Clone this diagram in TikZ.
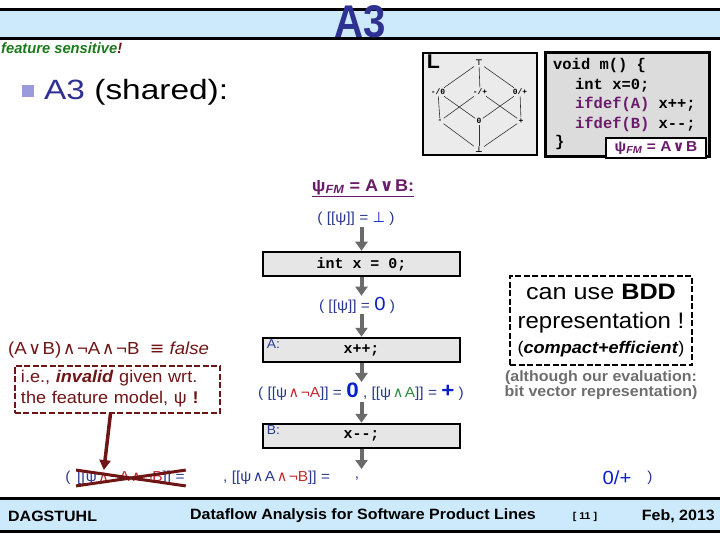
\documentclass[tikz,border=0pt]{standalone}
\usepackage{fontspec}
\setmainfont{Liberation Sans}[FakeStretch=1.07]
\setsansfont{Liberation Sans}[FakeStretch=1.07]
\setmonofont{Liberation Mono}
\newfontfamily\symf{DejaVu Sans}
\usetikzlibrary{arrows.meta,positioning}
\definecolor{barblue}{HTML}{CCEAFB}
\definecolor{titlenavy}{HTML}{2E3192}
\definecolor{labnavy}{HTML}{2B3990}
\definecolor{valblue}{HTML}{0A1FCC}
\definecolor{redc}{HTML}{C1272D}
\definecolor{greenc}{HTML}{2E8B3A}
\definecolor{fsgreen}{HTML}{1C7A1C}
\definecolor{maroonc}{HTML}{701515}
\definecolor{purpc}{HTML}{6A1B6A}
\definecolor{arrgrey}{HTML}{6B6B6B}
\definecolor{notegrey}{HTML}{6E6E6E}
\definecolor{boxgrey}{HTML}{E6E6E6}
\definecolor{codegrey}{HTML}{DCDCDC}
\definecolor{latgrey}{HTML}{EBEBEB}
\definecolor{bulletc}{HTML}{9A9ADC}
\newcommand{\fsz}[1]{\fontsize{#1}{#1}\selectfont}
\newcommand{\opand}{\kern1.5bp{\symf ∧}\kern1.5bp}
\newcommand{\opor}{\kern1.5bp{\symf ∨}\kern1.5bp}
\newcommand{\opequiv}{{\symf ≡}}
\newcommand{\opbot}{{\symf ⊥}}
\newcommand{\optop}{{\symf ⊤}}
\tikzset{
  stmt/.style={draw=black, line width=2.5bp, fill=boxgrey, minimum width=197bp, minimum height=24bp, inner sep=0pt, font=\ttfamily\bfseries\fsz{15}},
  flow/.style={-{Triangle[length=9bp,width=12bp]}, line width=4bp, draw=arrgrey},
  wrongflow/.style={-{Triangle[length=10bp,width=11bp]}, line width=3.5bp, draw=maroonc},
  strike/.style={draw=maroonc, line width=3bp},
  state/.style={text=labnavy, font=\fsz{14.5}, inner sep=1bp},
  tag/.style={text=labnavy, font=\fsz{13}, anchor=north west, inner sep=0pt},
  latel/.style={font=\ttfamily\bfseries\fsz{8}, inner sep=1.2bp},
  latline/.style={draw=black!80, line width=0.6bp},
  codeline/.style={anchor=west, font=\ttfamily\bfseries\fsz{15.5}, inner sep=0pt},
  hintbox/.style={draw=black, line width=2.5bp, dash pattern=on 6bp off 2.5bp, minimum width=182bp, minimum height=89bp, align=center, inner sep=0pt},
  wrongbox/.style={draw=maroonc, line width=2bp, dash pattern=on 6bp off 2.5bp, text width=193bp, minimum height=47bp, align=left, inner xsep=6bp, inner ysep=0pt, text=maroonc, font=\fsz{17}}
}
\begin{document}
\begin{tikzpicture}[x=1bp,y=-1bp]
  \useasboundingbox (0,0) rectangle (720,540);
  % title bar
  \fill[barblue] (0,10) rectangle (720,38);
  \draw[line width=3bp] (0,9.5) -- (720,9.5);
  \draw[line width=3bp] (0,38.5) -- (720,38.5);
  \node[font=\bfseries\fsz{46}, text=titlenavy, inner sep=0pt] (title) at (360,22) {\scalebox{0.82}[1]{A3}};
  \node[anchor=west, inner sep=0pt, font=\bfseries\itshape\fsz{15}, text=fsgreen] (fs) at (1,48) {\scalebox{0.92}[1]{feature sensitive\textcolor{maroonc}{!}}};
  \node[fill=bulletc, minimum size=12bp, inner sep=0pt] (blt) at (28,91) {};
  \node[anchor=west, inner sep=0pt, font=\fsz{28}] (sec) at (44,92) {\scalebox{1.12}[1]{\textcolor{titlenavy}{A3} (shared):}};

  % lattice
  \node[draw=black, line width=2.5bp, fill=latgrey, minimum width=114bp, minimum height=102bp] (latt) at (480,104) {};
  \node[anchor=north west, inner sep=0pt, font=\bfseries\fsz{20}] (lname) at ([shift={(5bp,-3bp)}]latt.north west) {L};
  \node[latel] (ltop) at (479,63) {\optop};
  \node[latel] (lmz) at (438,92) {-/0};
  \node[latel] (lmp) at (480,92) {-/+};
  \node[latel] (lzp) at (520,92) {0/+};
  \node[latel] (lm) at (440,121) {-};
  \node[latel] (lz) at (479,121) {0};
  \node[latel] (lp) at (521,121) {+};
  \node[latel] (lbot) at (479,150) {\opbot};
  \foreach \a/\b in {ltop/lmz, ltop/lmp, ltop/lzp, lmz/lm, lmz/lz, lmp/lm, lmp/lp, lzp/lz, lzp/lp, lm/lbot, lz/lbot, lp/lbot}
    \draw[latline] (\a) -- (\b);

  % code
  \node[draw=black, line width=3bp, fill=codegrey, minimum width=164bp, minimum height=104bp] (code) at (627,105) {};
  \node[codeline] (c1) at (553,66) {void m() \{};
  \node[codeline] (c2) at (575,85) {int x=0;};
  \node[codeline] (c3) at (575,104) {\textcolor{purpc}{ifdef(A)} x++;};
  \node[codeline] (c4) at (575,124) {\textcolor{purpc}{ifdef(B)} x-{}-;};
  \node[codeline] (c5) at (555,143) {\}};
  \node[draw=black, line width=2bp, fill=white, minimum width=100bp, minimum height=20bp, inner sep=0pt, text=purpc, font=\bfseries\fsz{14.5}] (fm) at (656,148) {ψ\textsubscript{\textit{FM}} = A\opor B};

  % flow
  \node[font=\bfseries\fsz{17}, text=purpc] (head) at (363,188) {\underline{ψ\textsubscript{\textit{FM}} = A\opor B:}};
  \node[state] (s0) at (356,219) {( [[ψ]] = \textcolor{valblue}{\opbot} )};
  \node[stmt] (init) at (361.5,264) {int x = 0;};
  \node[state] (s1) at (357,305) {( [[ψ]] = \textcolor{valblue}{\fsz{19}0} )};
  \node[stmt] (stA) at (361.5,350) {x++;};
  \node[tag] (tagA) at ([shift={(5bp,-3bp)}]stA.north west) {A:};
  \node[state] (s2) at (361,392) {( [[ψ\textcolor{redc}{\opand¬A}]] = \textcolor{valblue}{\fsz{21}\bfseries 0} , [[ψ\textcolor{greenc}{\opand A}]] = \textcolor{valblue}{\fsz{21}\bfseries +} )};
  \node[stmt] (stB) at (361.5,436) {x-{}-;};
  \node[tag] (tagB) at ([shift={(5bp,-3bp)}]stB.north west) {B:};
  \coordinate (sink) at (361.5,469);

  \draw[flow] (init.north |- s0.south) -- (init.north);
  \draw[flow] (init.south) -- (init.south |- s1.north);
  \draw[flow] (stA.north |- s1.south) -- (stA.north);
  \draw[flow] (stA.south) -- (stA.south |- s2.north);
  \draw[flow] (stB.north |- s2.south) -- (stB.north);
  \draw[flow] (stB.south) -- (sink);

  % bottom state
  \node[state] (s3o) at (68,478) {(};
  \node[state, anchor=west] (s3a) at (76,478) {[[ψ\textcolor{redc}{\opand¬A\opand¬B}]] =};
  \node[state, anchor=west] (s3b) at (222,478) {, [[ψ\opand A\textcolor{redc}{\opand¬B}]] =};
  \node[state] (s3c) at (357,479) {,};
  \node[state, font=\fsz{19}, text=valblue] (s3d) at (617,478) {0/+};
  \node[state] (s3e) at (650,478) {)};
  \draw[strike] (s3a.south west) -- (s3a.north east);
  \draw[strike] (s3a.north west) -- (s3a.south east);

  % infeasible
  \node[anchor=west, inner sep=0pt, text=maroonc, font=\fsz{17.5}] (contra) at (8,350) {(A\opor B)\opand¬A\opand¬B \ \opequiv\ \textit{false}};
  \node[wrongbox] (infeasible) at (117.5,389) {i.e., \textbf{\textit{invalid}} given wrt.\\[4bp]the feature model, ψ \textbf{!}};
  \draw[wrongflow] ([xshift=-7bp]infeasible.south) -- ([xshift=-27bp]s3a.north);

  % BDD remark
  \node[hintbox, font=\fsz{22.5}] (bdd) at (601,320.5) {\scalebox{1.05}[1]{can use \textbf{BDD}}\\[7bp]representation !\\[3bp]{\fsz{17}(\textbf{\textit{compact+efficient}})}};
  \node[below=4bp of bdd, inner sep=0pt, text=notegrey, font=\bfseries\fsz{15}, align=center] (note) {(although our evaluation:\\bit vector representation)};

  % footer
  \fill[barblue] (0,500) rectangle (720,530);
  \draw[line width=3bp] (0,498.5) -- (720,498.5);
  \draw[line width=3bp] (0,531.5) -- (720,531.5);
  \node[anchor=west, inner sep=0pt, font=\bfseries\fsz{15}] (venue) at (8,516) {DAGSTUHL};
  \node[anchor=west, inner sep=0pt, font=\bfseries\fsz{15}] (talk) at (190,516) {Dataflow Analysis for Software Product Lines};
  \node[inner sep=0pt, font=\bfseries\fsz{10}] (page) at (585,517) {[ 11 ]};
  \node[anchor=east, inner sep=0pt, font=\bfseries\fsz{15}] (date) at (715,516) {Feb, 2013};
\end{tikzpicture}
\end{document}
